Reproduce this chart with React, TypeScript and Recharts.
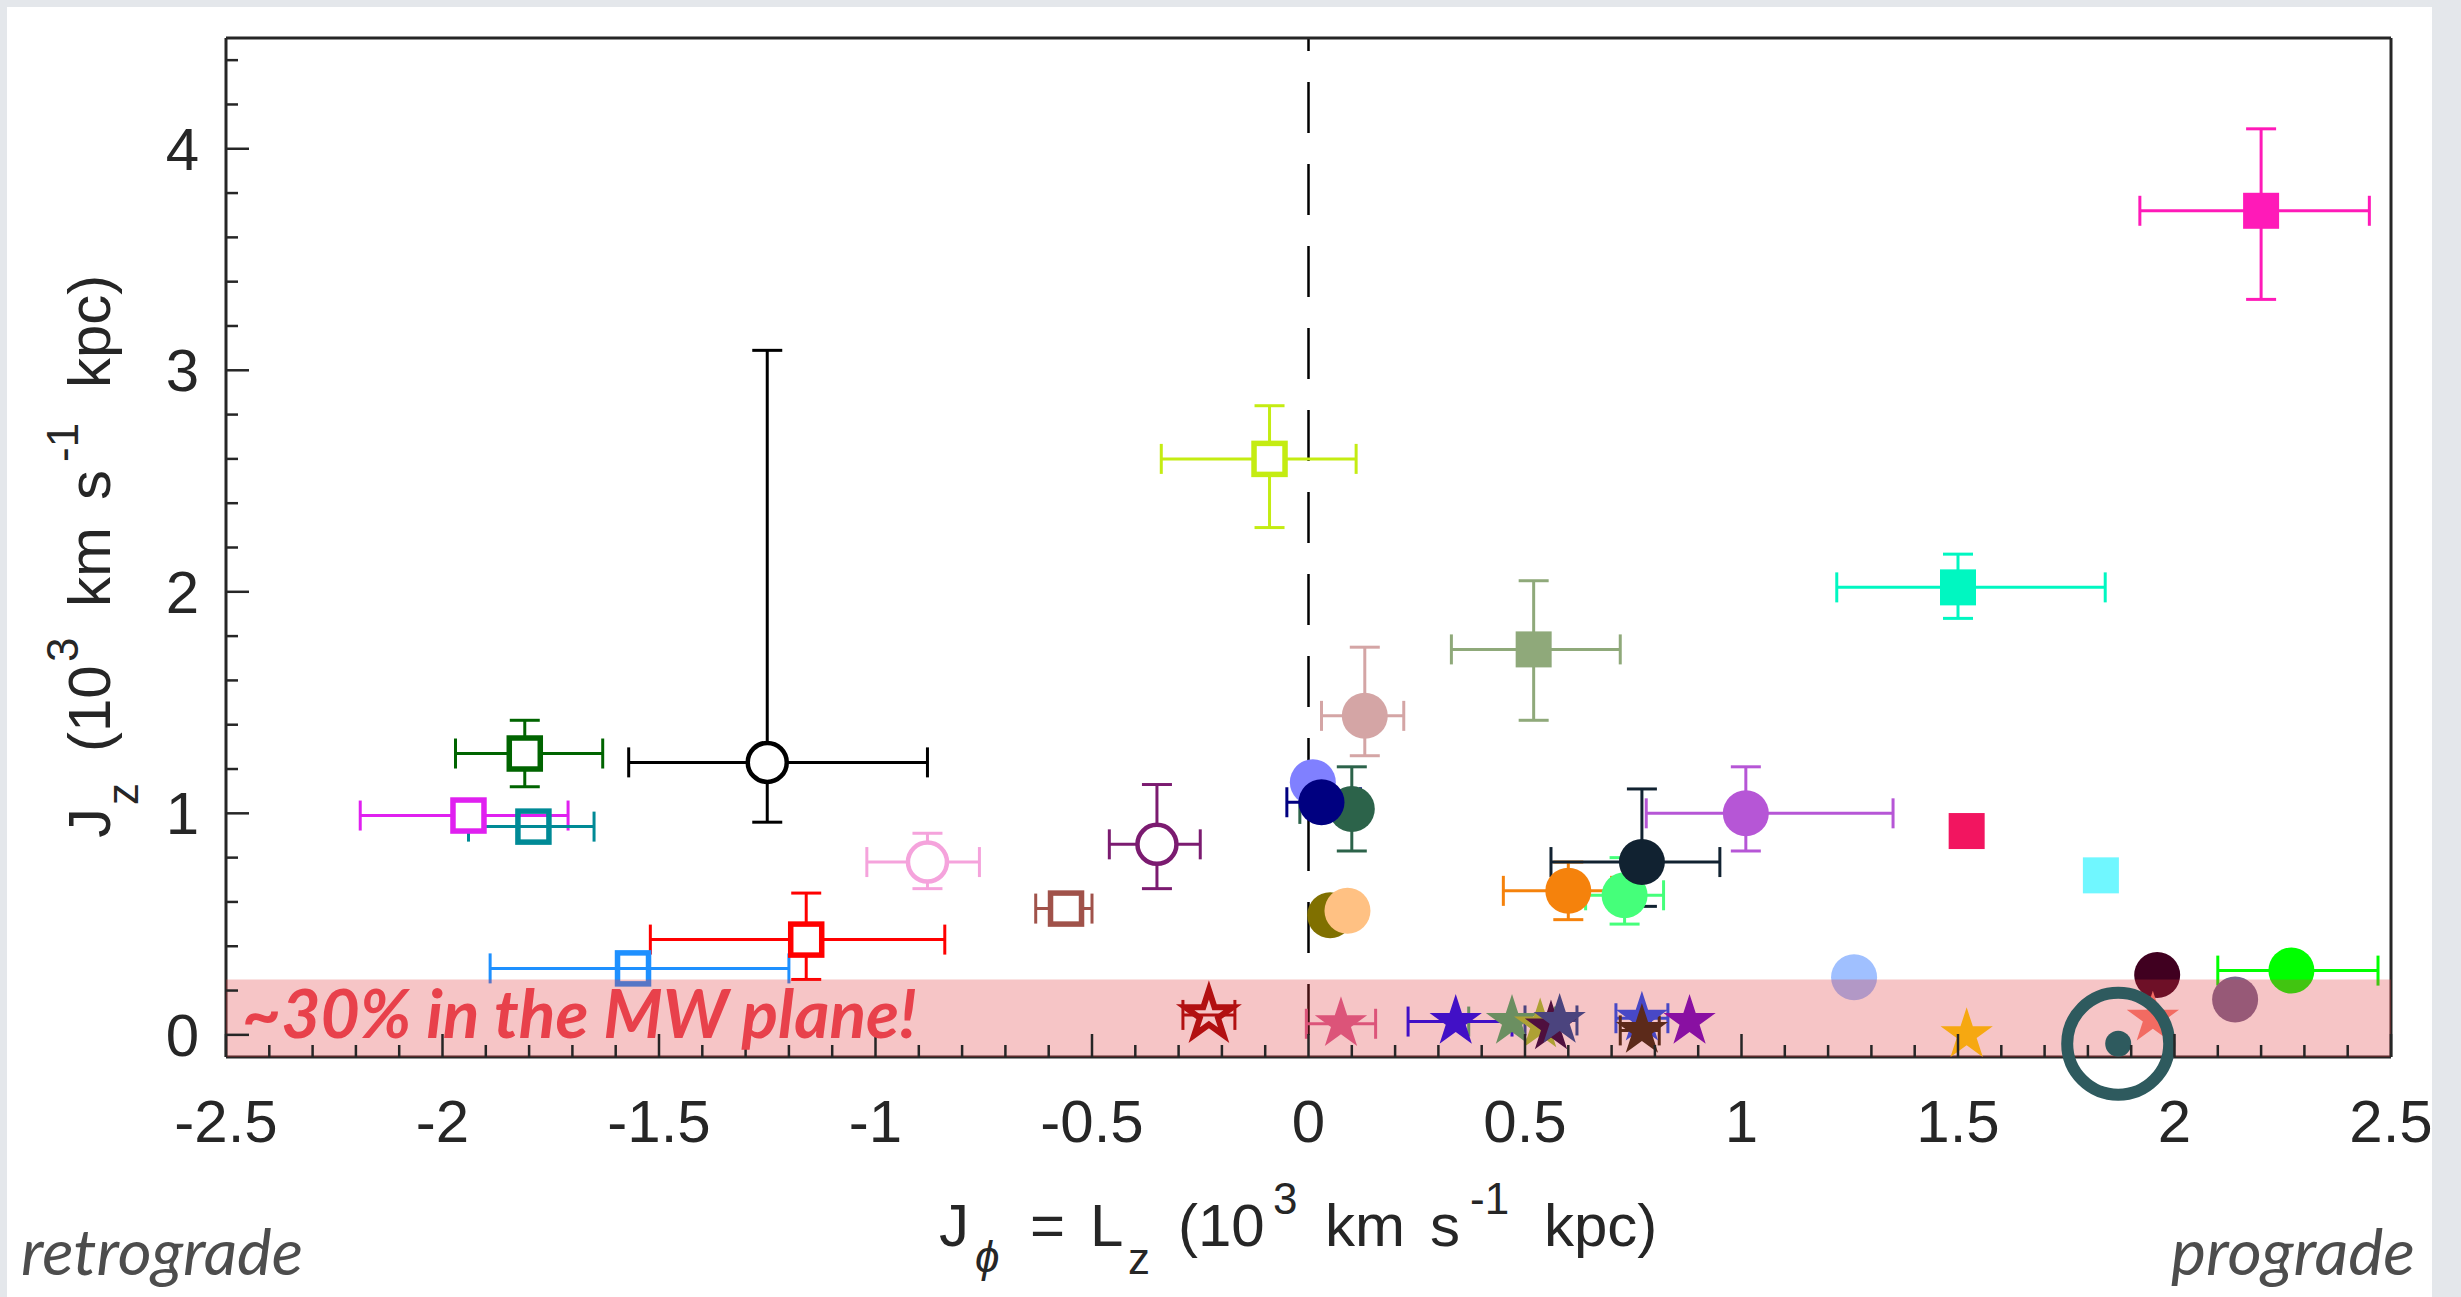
import {
  ErrorBar,
  ReferenceArea,
  ReferenceLine,
  Scatter,
  ScatterChart,
  XAxis,
  YAxis,
} from 'recharts'

// ---- data (Lz, Jz in 10^3 km/s kpc; ex/ey = [minus, plus]) ----
const openSquares = [
  { lz: -1.81, jz: 1.27, ex: [0.16, 0.18], ey: [0.15, 0.15] },
  { lz: -1.94, jz: 0.99, ex: [0.25, 0.23] },
  { lz: -1.79, jz: 0.94, ex: [0.15, 0.14] },
  { lz: -1.16, jz: 0.43, ex: [0.36, 0.32], ey: [0.18, 0.21] },
  { lz: -1.56, jz: 0.3, ex: [0.33, 0.36] },
  { lz: -0.09, jz: 2.6, ex: [0.25, 0.2], ey: [0.31, 0.24] },
  { lz: -0.56, jz: 0.57, ex: [0.07, 0.06] },
]
const openSquareColors = ['#006400', '#e020f0', '#008a96', '#ff0000', '#1e90ff', '#c4ec12', '#a0524a']
const openSquareHollow = [false, false, true, false, true, false, false]

const openCircles = [
  { lz: -1.25, jz: 1.23, ex: [0.32, 0.37], ey: [0.27, 1.86] },
  { lz: -0.88, jz: 0.78, ex: [0.14, 0.12], ey: [0.12, 0.13] },
  { lz: -0.35, jz: 0.86, ex: [0.11, 0.1], ey: [0.2, 0.27] },
]
const openCircleColors = ['#000000', '#f5a3dc', '#7b1b70']

const filledSquares = [
  { lz: 2.2, jz: 3.72, ex: [0.28, 0.25], ey: [0.4, 0.37] },
  { lz: 1.5, jz: 2.02, ex: [0.28, 0.34], ey: [0.14, 0.15] },
  { lz: 0.52, jz: 1.74, ex: [0.19, 0.2], ey: [0.32, 0.31] },
  { lz: 1.52, jz: 0.92 },
  { lz: 1.83, jz: 0.72 },
]
const filledSquareColors = ['#ff1ab8', '#00f7c1', '#8fa97a', '#f21560', '#70f7ff']

const filledCircles = [
  { lz: 0.13, jz: 1.44, ex: [0.1, 0.09], ey: [0.18, 0.31] },
  { lz: 0.01, jz: 1.14 },
  { lz: 0.1, jz: 1.02, ex: [0.12, 0.02], ey: [0.19, 0.19] },
  { lz: 0.03, jz: 1.05, ex: [0.08, 0.09] },
  { lz: 0.05, jz: 0.54 },
  { lz: 0.09, jz: 0.56 },
  { lz: 0.73, jz: 0.63, ex: [0.09, 0.09], ey: [0.13, 0.17] },
  { lz: 0.6, jz: 0.65, ex: [0.15, 0.1], ey: [0.13, 0.13] },
  { lz: 0.77, jz: 0.78, ex: [0.21, 0.18], ey: [0.2, 0.33] },
  { lz: 1.01, jz: 1.0, ex: [0.23, 0.34], ey: [0.17, 0.21] },
  { lz: 1.26, jz: 0.26 },
  { lz: 1.96, jz: 0.27 },
  { lz: 2.27, jz: 0.29, ex: [0.17, 0.2] },
  { lz: 2.14, jz: 0.16 },
]
const filledCircleColors = [
  '#d4a5a5', '#8080ff', '#2c634a', '#000080', '#807000', '#ffc183', '#45ff7a',
  '#f5820c', '#112231', '#b656d6', '#a0c0ff', '#400020', '#00ff00', '#7a6890',
]

const stars = [
  { lz: 0.47, jz: 0.06, ex: [0.1, 0.1] },
  { lz: 0.34, jz: 0.06, ex: [0.11, 0.13] },
  { lz: 0.535, jz: 0.045 },
  { lz: 0.56, jz: 0.035 },
  { lz: 0.58, jz: 0.065, ex: [0.08, 0.04] },
  { lz: 0.77, jz: 0.075, ex: [0.06, 0.06] },
  { lz: 0.77, jz: 0.02, ex: [0.05, 0.04] },
  { lz: 0.88, jz: 0.06 },
  { lz: 0.075, jz: 0.05, ex: [0.08, 0.08] },
  { lz: 1.52, jz: 0.0 },
  { lz: 1.95, jz: 0.075 },
]
const starColors = [
  '#3cb371', '#0000ff', '#9acd32', '#150040', '#0f4a9a', '#0a50ff',
  '#26250d', '#6600cc', '#db6093', '#ffd700', '#fa8072',
]

const hollowStars = [{ lz: -0.23, jz: 0.09, ex: [0.06, 0.06] }]
const hollowStarColors = ['#a00000']

const highlighted = [{ lz: 1.87, jz: -0.04 }]

const xMajor = [-2.5, -2, -1.5, -1, -0.5, 0, 0.5, 1, 1.5, 2, 2.5]
const xTickLabels = ['-2.5', '-2', '-1.5', '-1', '-0.5', '0', '0.5', '1', '1.5', '2', '2.5']
const yMajor = [0, 1, 2, 3, 4]
const yTickLabels = ['0', '1', '2', '3', '4']

const xTicks = Array.from({ length: 51 }, (_, i) => Math.round((-2.5 + i * 0.1) * 10) / 10)
const yTicks = Array.from({ length: 23 }, (_, i) => Math.round(i * 0.2 * 10) / 10)

const AXIS = '#262626'
const TICK_FONT = '"Liberation Sans", Arial, Helvetica, sans-serif'

const near = (a: number, b: number) => Math.abs(a - b) < 1e-6

function XTick(props: any) {
  const { x, y, payload, side } = props
  const v = payload.value
  const idx = xMajor.findIndex((m) => near(m, v))
  const len = idx >= 0 ? 23 : 12
  return (
    <g>
      <line x1={x} x2={x} y1={y} y2={side === 'top' ? y + len : y - len} stroke={AXIS} strokeWidth={2.5} />
      {side !== 'top' && idx >= 0 && (
        <text x={x} y={y + 85} textAnchor="middle" fontFamily={TICK_FONT} fontSize={60} fill={AXIS}>
          {xTickLabels[idx]}
        </text>
      )}
    </g>
  )
}

function YTick(props: any) {
  const { x, y, payload, side } = props
  const v = payload.value
  const idx = yMajor.findIndex((m) => near(m, v))
  const len = idx >= 0 ? 23 : 12
  return (
    <g>
      <line x1={x} x2={side === 'right' ? x - len : x + len} y1={y} y2={y} stroke={AXIS} strokeWidth={2.5} />
      {side !== 'right' && idx >= 0 && (
        <text x={x - 27} y={y + 21} textAnchor="end" fontFamily={TICK_FONT} fontSize={60} fill={AXIS}>
          {yTickLabels[idx]}
        </text>
      )}
    </g>
  )
}

function starPoints(cx: number, cy: number, R: number) {
  const pts: string[] = []
  for (let k = 0; k < 10; k++) {
    const r = k % 2 === 0 ? R : R * 0.382
    const a = -Math.PI / 2 + (k * Math.PI) / 5
    pts.push(`${cx + r * Math.cos(a)},${cy + r * Math.sin(a)}`)
  }
  return pts.join(' ')
}

type Kind = 'osq' | 'osqLine' | 'ocirc' | 'sq' | 'circ' | 'star' | 'ostar' | 'dot' | 'ring'

const makeShape = (kind: Kind, color: string) => (p: any) => {
  const { cx, cy } = p
  if (cx == null || cy == null) return <g />
  switch (kind) {
    case 'osq':
    case 'osqLine':
      return (
        <rect x={cx - 15.5} y={cy - 15.5} width={31} height={31}
          fill={kind === 'osq' ? '#fff' : 'none'} stroke={color} strokeWidth={5.5} />
      )
    case 'ocirc':
      return <circle cx={cx} cy={cy} r={19.5} fill="#fff" stroke={color} strokeWidth={4.5} />
    case 'sq':
      return <rect x={cx - 18} y={cy - 18} width={36} height={36} fill={color} />
    case 'circ':
      return <circle cx={cx} cy={cy} r={23} fill={color} />
    case 'star':
      return <polygon points={starPoints(cx, cy, 27.5)} fill={color} />
    case 'ostar':
      return <polygon points={starPoints(cx, cy, 25)} fill="none" stroke={color} strokeWidth={6} strokeLinejoin="miter" />
    case 'dot':
      return <circle cx={cx} cy={cy} r={13} fill={color} />
    case 'ring':
      return <circle cx={cx} cy={cy} r={51} fill="none" stroke={color} strokeWidth={12} />
  }
}

function renderGroup(
  name: string,
  items: { lz: number; jz: number; ex?: number[]; ey?: number[] }[],
  colors: string[],
  kind: (i: number) => Kind,
) {
  return items.map((d, i) => (
    <Scatter
      key={`${name}-${i}`}
      data={[d]}
      shape={makeShape(kind(i), colors[i])}
      isAnimationActive={false}
    >
      {d.ex && (
        <ErrorBar dataKey="ex" direction="x" width={15} stroke={colors[i]} strokeWidth={3} isAnimationActive={false} />
      )}
      {d.ey && (
        <ErrorBar dataKey="ey" direction="y" width={15} stroke={colors[i]} strokeWidth={3} isAnimationActive={false} />
      )}
    </Scatter>
  ))
}

export default function App() {
  const W = 2461
  const H = 1297
  return (
    <div style={{ position: 'absolute', left: 0, top: 0, width: W, height: H, background: '#e4e7eb', overflow: 'hidden' }}>
      <div style={{ position: 'absolute', left: 7, top: 7, width: 2425, height: 1290, background: '#ffffff' }} />
      <div style={{ position: 'absolute', left: 0, top: 0 }}>
        <ScatterChart width={W} height={H} margin={{ top: 37, right: 69, bottom: 239, left: 225 }}>
          <XAxis
            xAxisId={0} type="number" dataKey="lz" domain={[-2.5, 2.5]} ticks={xTicks} interval={0}
            height={1} tickSize={0} tickMargin={0} tickLine={false}
            axisLine={{ stroke: AXIS, strokeWidth: 3 }}
            tick={(p: any) => <XTick {...p} side="bottom" />}
          />
          <XAxis
            xAxisId="top" orientation="top" type="number" domain={[-2.5, 2.5]} ticks={xTicks} interval={0}
            height={1} tickSize={0} tickMargin={0} tickLine={false}
            axisLine={{ stroke: AXIS, strokeWidth: 3 }}
            tick={(p: any) => <XTick {...p} side="top" />}
          />
          <YAxis
            yAxisId={0} type="number" dataKey="jz" domain={[-0.1, 4.5]} ticks={yTicks} interval={0}
            width={1} tickSize={0} tickMargin={0} tickLine={false}
            axisLine={{ stroke: AXIS, strokeWidth: 3 }}
            tick={(p: any) => <YTick {...p} side="left" />}
          />
          <YAxis
            yAxisId="right" orientation="right" type="number" domain={[-0.1, 4.5]} ticks={yTicks} interval={0}
            width={1} tickSize={0} tickMargin={0} tickLine={false}
            axisLine={{ stroke: AXIS, strokeWidth: 3 }}
            tick={(p: any) => <YTick {...p} side="right" />}
          />
          <ReferenceLine x={0} stroke="#000" strokeWidth={2.5} strokeDasharray="51 31" strokeDashoffset={60} />

          {renderGroup('osq', openSquares, openSquareColors, (i) => (openSquareHollow[i] ? 'osqLine' : 'osq'))}
          {renderGroup('ocirc', openCircles, openCircleColors, () => 'ocirc')}
          {renderGroup('sq', filledSquares, filledSquareColors, () => 'sq')}
          {renderGroup('circ', filledCircles, filledCircleColors, () => 'circ')}
          {renderGroup('star', stars, starColors, () => 'star')}
          {renderGroup('ostar', hollowStars, hollowStarColors, () => 'ostar')}

          <ReferenceArea
            x1={-2.5} x2={2.5} y1={-0.1} y2={0.25}
            fill="rgb(224,55,60)" fillOpacity={0.29} stroke="none"
            zIndex={650}
          />

          <Scatter data={highlighted} shape={makeShape('dot', '#2e5a5e')} isAnimationActive={false} zIndex={700} />
          <Scatter data={highlighted} shape={makeShape('ring', '#2e5a5e')} isAnimationActive={false} zIndex={700} />
        </ScatterChart>
      </div>

      <svg width={W} height={H} style={{ position: 'absolute', left: 0, top: 0, pointerEvents: 'none' }}>
        <text x={242} y={1038} fontFamily="Lato, 'Open Sans', sans-serif" fontStyle="italic" fontWeight={700}
          fontSize={66} fill="#e8414b" textLength={675} lengthAdjust="spacingAndGlyphs">
          ~30% in the MW plane!
        </text>
        <text x={21} y={1275} fontFamily="Lato, 'Open Sans', sans-serif" fontStyle="italic"
          fontSize={64} fill="#4d4d4d" textLength={282} lengthAdjust="spacingAndGlyphs">
          retrograde
        </text>
        <text x={2171} y={1275} fontFamily="Lato, 'Open Sans', sans-serif" fontStyle="italic"
          fontSize={64} fill="#4d4d4d" textLength={244} lengthAdjust="spacingAndGlyphs">
          prograde
        </text>

        {/* x axis label */}
        <text fontFamily={TICK_FONT} fontSize={60} fill={AXIS}>
          <tspan x={939} y={1246}>J</tspan>
          <tspan x={975} y={1272} fontSize={44} fontStyle="italic">ϕ</tspan>
          <tspan x={1030} y={1246}>=</tspan>
          <tspan x={1090} y={1246}>L</tspan>
          <tspan x={1128} y={1274} fontSize={44}>z</tspan>
          <tspan x={1178} y={1246}>(10</tspan>
          <tspan x={1273} y={1214} fontSize={44}>3</tspan>
          <tspan x={1325} y={1246}>km</tspan>
          <tspan x={1430} y={1246}>s</tspan>
          <tspan x={1470} y={1214} fontSize={44}>-1</tspan>
          <tspan x={1544} y={1246}>kpc)</tspan>
        </text>

        {/* y axis label */}
        <text transform="rotate(-90)" fontFamily={TICK_FONT} fontSize={60} fill={AXIS}>
          <tspan x={-838} y={110}>J</tspan>
          <tspan x={-805} y={138} fontSize={44}>z</tspan>
          <tspan x={-752} y={110}>(10</tspan>
          <tspan x={-662} y={78} fontSize={44}>3</tspan>
          <tspan x={-607} y={110}>km</tspan>
          <tspan x={-500} y={110}>s</tspan>
          <tspan x={-462} y={78} fontSize={44}>-1</tspan>
          <tspan x={-388} y={110}>kpc)</tspan>
        </text>
      </svg>
    </div>
  )
}
